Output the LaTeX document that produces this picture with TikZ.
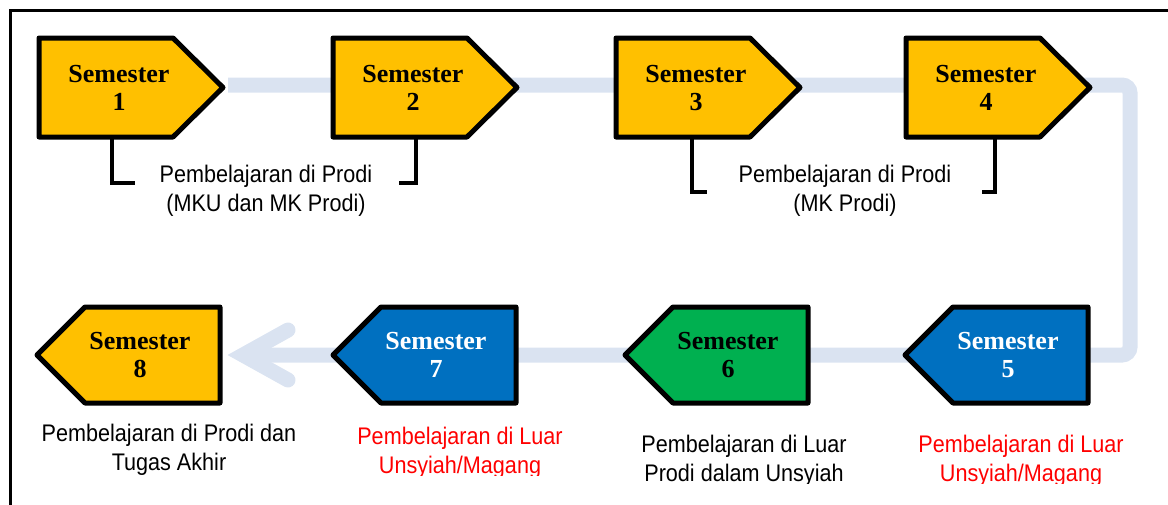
\documentclass[tikz,border=0pt]{standalone}
\usepackage{fontspec}
\setmainfont{Liberation Sans}
\newfontfamily\semfont{Liberation Serif}

\definecolor{gold}{HTML}{FFC000}
\definecolor{semblue}{HTML}{0070C0}
\definecolor{semgreen}{HTML}{00B050}
\definecolor{flowband}{RGB}{218,227,241}
\definecolor{notered}{HTML}{FF0000}

% slightly condensed body text
\newcommand{\cond}[1]{\scalebox{0.9}[1]{#1}}

% right-pointing tag (top row): left edge x, fill colour
\newcommand{\righttag}[2]{%
  \draw[tag, fill=#2] (#1,38) -- ++(134,0) -- ++(50,49.5) -- ++(-50,49.5) -- ++(-134,0) -- cycle;}
% left-pointing tag (bottom row): tip x, fill colour
\newcommand{\lefttag}[2]{%
  \draw[tag, fill=#2] (#1,355) -- ++(48,-48) -- ++(135,0) -- ++(0,96) -- ++(-135,0) -- cycle;}

% multi-line nodes below sit on the baseline of their last line
\tikzset{
  semlabel/.style={font=\semfont\bfseries\fontsize{26}{28}\selectfont, align=center, anchor=base, inner sep=0pt},
  note/.style={font=\fontsize{24}{29}\selectfont, align=center, anchor=base, inner sep=0pt},
  tag/.style={line width=5pt, line join=round, draw=black},
  band/.style={line width=15pt, draw=flowband},
  bracket/.style={line width=4pt, draw=black, line join=miter},
}

\begin{document}
\begin{tikzpicture}[x=1pt, y=-1pt]
\useasboundingbox (0,0) rectangle (1168,504);
\clip (0,0) rectangle (1168,504);

% outer frame
\draw[line width=3pt] (10,10) rectangle (1200,560);

% flow band running behind the tags
\coordinate (flowin) at (228,85);
\coordinate (flowturnA) at (1130,85);
\coordinate (flowturnB) at (1130,355);
\coordinate (flowtip) at (243,355);
\coordinate (barbup) at (288,330);
\coordinate (barbdown) at (288,380);
\draw[band, rounded corners=8pt] (flowin) -- (flowturnA) -- (flowturnB) -- (flowtip);
\draw[band, line cap=round, line join=miter] (barbup) -- (flowtip) -- (barbdown);

% top row tags
\righttag{39}{gold}
\righttag{333}{gold}
\righttag{616}{gold}
\righttag{906}{gold}

% bottom row tags
\lefttag{905}{semblue}
\lefttag{625}{semgreen}
\lefttag{333}{semblue}
\lefttag{37}{gold}

% tag labels
\node[semlabel] (sem1) at (119,110) {Semester\\1};
\node[semlabel] (sem2) at (413,110) {Semester\\2};
\node[semlabel] (sem3) at (696,110) {Semester\\3};
\node[semlabel] (sem4) at (986,110) {Semester\\4};
\node[semlabel, text=white] (sem5) at (1008,377) {Semester\\5};
\node[semlabel] (sem6) at (728,377) {Semester\\6};
\node[semlabel, text=white] (sem7) at (436,377) {Semester\\7};
\node[semlabel] (sem8) at (140,377) {Semester\\8};

% brackets under the top row
\draw[bracket] (112,137) |- (135,183);
\draw[bracket] (416,137) |- (399,183);
\draw[bracket] (692,135) |- (707,192);
\draw[bracket] (995,137) |- (982,192);

% notes
\node[note] (noteA) at (266,211) {\cond{Pembelajaran di Prodi}\\\cond{(MKU dan MK Prodi)}};
\node[note] (noteB) at (845,211) {\cond{Pembelajaran di Prodi}\\\cond{(MK Prodi)}};

\begin{scope}
\clip (0,0) rectangle (600,475);
\node[note] (note8) at (169,470) {\cond{Pembelajaran di Prodi dan}\\\cond{Tugas Akhir}};
\node[note, text=notered] (note7) at (460,473) {\cond{Pembelajaran di Luar}\\\cond{Unsyiah/Magang}};
\end{scope}
\begin{scope}
\clip (600,0) rectangle (1168,483);
\node[note] (note6) at (744,481) {\cond{Pembelajaran di Luar}\\\cond{Prodi dalam Unsyiah}};
\node[note, text=notered] (note5) at (1021,481) {\cond{Pembelajaran di Luar}\\\cond{Unsyiah/Magang}};
\end{scope}
\end{tikzpicture}
\end{document}
